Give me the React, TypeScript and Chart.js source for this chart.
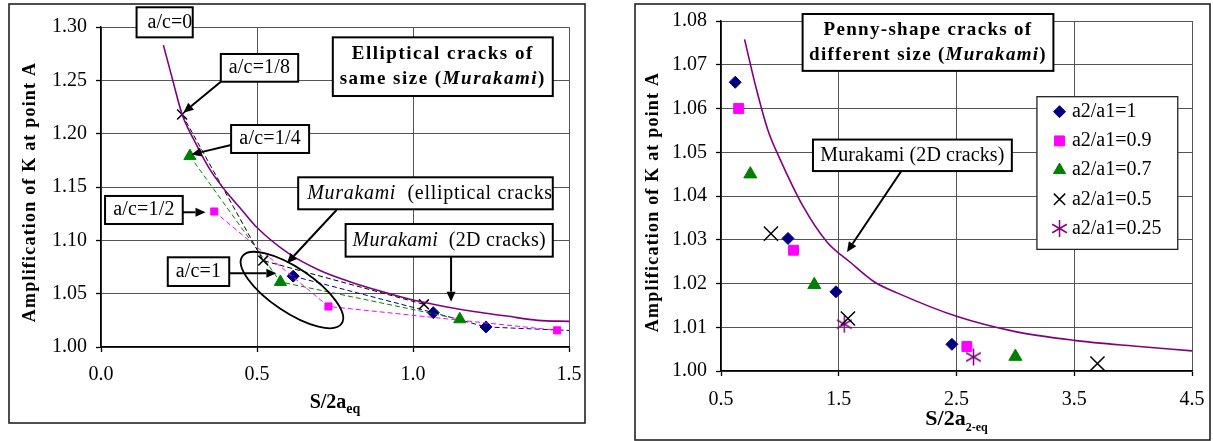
import React, { useEffect, useRef } from 'react';
import { Chart, registerables } from 'chart.js';
import { drawPoint } from 'chart.js/helpers';
Chart.register(...registerables);

const FONT = '"Liberation Serif", "Times New Roman", Times, serif';
const PURPLE = '#800080';
const NAVY = '#000080';
const MAGENTA = '#FF00FF';
const GREEN = '#008000';
const BLACK = '#000000';

// ---------------- Left panel: elliptical cracks of same size ----------------
const leftXTicks = [0.0, 0.5, 1.0, 1.5];
const leftYTicks = [1.0, 1.05, 1.1, 1.15, 1.2, 1.25, 1.3];
const left2DX = [0.2, 0.23, 0.26, 0.3, 0.35, 0.4, 0.45, 0.5, 0.6, 0.7, 0.8, 0.9, 1.0, 1.1, 1.2, 1.3, 1.4, 1.5];
const left2DY = [1.283, 1.25, 1.218, 1.193, 1.166, 1.146, 1.129, 1.112, 1.088, 1.072, 1.061, 1.052, 1.044, 1.038, 1.033, 1.029, 1.025, 1.024];
const ac8X = [0.26, 0.52, 1.035];
const ac8Y = [1.218, 1.081, 1.04];
const ac4X = [0.285, 0.575, 1.15];
const ac4Y = [1.179, 1.061, 1.026];
const ac2X = [0.363, 0.729, 1.462];
const ac2Y = [1.127, 1.038, 1.0156];
const ac1X = [0.616, 1.065, 1.234, 1.75];
const ac1Y = [1.0664, 1.0322, 1.0188, 1.0124];

// ---------------- Right panel: penny-shape cracks of different size ----------------
const rightXTicks = [0.5, 1.5, 2.5, 3.5, 4.5];
const rightYTicks = [1.0, 1.01, 1.02, 1.03, 1.04, 1.05, 1.06, 1.07, 1.08];
const right2DX = [0.7, 0.8, 0.9, 1.0, 1.2, 1.4, 1.6, 1.8, 2.0, 2.5, 3.0, 3.5, 4.0, 4.5];
const right2DY = [1.0758, 1.0645, 1.0549, 1.0485, 1.0375, 1.0295, 1.0248, 1.0204, 1.0178, 1.0125, 1.009, 1.007, 1.0057, 1.0046];
const r10X = [0.621, 1.069, 1.476, 2.461];
const r10Y = [1.066, 1.0303, 1.0181, 1.0061];
const r09X = [0.65, 1.116, 2.588];
const r09Y = [1.06, 1.0276, 1.0056];
const r07X = [0.749, 1.292, 3.0];
const r07Y = [1.045, 1.0197, 1.0033];
const r05X = [0.924, 1.578, 3.697];
const r05Y = [1.0314, 1.012, 1.0017];
const r025X = [1.547, 2.644];
const r025Y = [1.0107, 1.0032];
const rightLabels = ['a2/a1=1', 'a2/a1=0.9', 'a2/a1=0.7', 'a2/a1=0.5', 'a2/a1=0.25'];

type Seg = { t: string; b?: boolean; i?: boolean };
type Note = {
  box: [number, number, number, number];
  lines: Seg[][];
  align: 'center' | 'left';
  pad?: number;
  size: number;
  spacing: number;
  lineH: number;
  arrow?: [number, number, number, number];
};
type Decor = {
  frame: [number, number, number, number];
  yTitle: { text: string; x: number; y: number };
  xTitle: { main: string; sub: string; y: number; size: number; subSize: number; subDy: number };
  notes: Note[];
  ellipse?: { cx: number; cy: number; a: number; b: number; rot: number };
  legend?: { box: [number, number, number, number]; items: number[]; first: number; step: number; markerDx: number; textDx: number; radii: number[] };
};

function segFont(s: Seg, size: number) {
  return `${s.i ? 'italic ' : ''}${s.b ? 'bold ' : ''}${size}px ${FONT}`;
}

function drawSegs(ctx: any, segs: Seg[], x: number, y: number, align: string, size: number, spacing: number) {
  ctx.letterSpacing = `${spacing}px`;
  const widths = segs.map((s) => {
    ctx.font = segFont(s, size);
    return ctx.measureText(s.t).width;
  });
  const total = widths.reduce((a, b) => a + b, 0);
  let cx = align === 'center' ? x - total / 2 : x;
  ctx.textAlign = 'left';
  ctx.textBaseline = 'middle';
  ctx.fillStyle = '#000';
  segs.forEach((s, k) => {
    ctx.font = segFont(s, size);
    ctx.fillText(s.t, cx, y);
    cx += widths[k];
  });
  ctx.letterSpacing = '0px';
}

function drawArrow(ctx: any, x0: number, y0: number, x1: number, y1: number) {
  const a = Math.atan2(y1 - y0, x1 - x0);
  const L = 10;
  const W = 4.5;
  const bx = x1 - L * Math.cos(a);
  const by = y1 - L * Math.sin(a);
  ctx.strokeStyle = '#000';
  ctx.fillStyle = '#000';
  ctx.lineWidth = 2;
  ctx.setLineDash([]);
  ctx.beginPath();
  ctx.moveTo(x0, y0);
  ctx.lineTo(bx, by);
  ctx.stroke();
  ctx.beginPath();
  ctx.moveTo(x1, y1);
  ctx.lineTo(bx - W * Math.sin(a), by + W * Math.cos(a));
  ctx.lineTo(bx + W * Math.sin(a), by - W * Math.cos(a));
  ctx.closePath();
  ctx.fill();
}

function decor(d: Decor) {
  return {
    id: 'decor',
    afterDatasetsDraw(chart: any) {
      const ctx = chart.ctx;
      const xs = chart.scales.x;
      const ys = chart.scales.y;
      const px = (v: number) => xs.getPixelForValue(v);
      const py = (v: number) => ys.getPixelForValue(v);
      ctx.save();
      if (d.ellipse) {
        const e = d.ellipse;
        ctx.beginPath();
        ctx.ellipse(px(e.cx), py(e.cy), e.a, e.b, e.rot, 0, Math.PI * 2);
        ctx.strokeStyle = '#000';
        ctx.lineWidth = 1.8;
        ctx.setLineDash([]);
        ctx.stroke();
      }
      d.notes.forEach((n) => {
        if (n.arrow) drawArrow(ctx, px(n.arrow[0]), py(n.arrow[1]), px(n.arrow[2]), py(n.arrow[3]));
      });
      d.notes.forEach((n) => {
        const x0 = px(n.box[0]);
        const y0 = py(n.box[1]);
        const x1 = px(n.box[2]);
        const y1 = py(n.box[3]);
        ctx.fillStyle = '#fff';
        ctx.fillRect(x0, y0, x1 - x0, y1 - y0);
        ctx.save();
        ctx.beginPath();
        ctx.rect(x0 + 1, y0 + 1, x1 - x0 - 2, y1 - y0 - 2);
        ctx.clip();
        const cy = (y0 + y1) / 2;
        const tot = n.lines.length * n.lineH;
        n.lines.forEach((ln, k) => {
          const ly = cy - tot / 2 + n.lineH / 2 + k * n.lineH;
          const lx = n.align === 'center' ? (x0 + x1) / 2 : x0 + (n.pad || 8);
          drawSegs(ctx, ln, lx, ly, n.align, n.size, n.spacing);
        });
        ctx.restore();
        ctx.strokeStyle = '#000';
        ctx.lineWidth = 2;
        ctx.setLineDash([]);
        ctx.strokeRect(x0, y0, x1 - x0, y1 - y0);
      });
      if (d.legend) {
        const L = d.legend;
        const X0 = px(L.box[0]);
        const Y0 = py(L.box[1]);
        const X1 = px(L.box[2]);
        const Y1 = py(L.box[3]);
        ctx.fillStyle = '#fff';
        ctx.fillRect(X0, Y0, X1 - X0, Y1 - Y0);
        ctx.strokeStyle = '#222';
        ctx.lineWidth = 1.3;
        ctx.strokeRect(X0, Y0, X1 - X0, Y1 - Y0);
        L.items.forEach((di, k) => {
          const ds = chart.data.datasets[di];
          const y = Y0 + L.first + k * L.step;
          ctx.save();
          ctx.fillStyle = ds.pointBackgroundColor;
          ctx.strokeStyle = ds.pointBorderColor;
          ctx.lineWidth = ds.pointBorderWidth;
          ctx.setLineDash([]);
          drawPoint(ctx, { pointStyle: ds.pointStyle, radius: L.radii[k], rotation: 0, borderWidth: ds.pointBorderWidth } as any, X0 + L.markerDx, y);
          ctx.restore();
          drawSegs(ctx, [{ t: ds.label }], X0 + L.textDx, y, 'left', 20, 0);
        });
      }
      ctx.restore();
    },
    afterDraw(chart: any) {
      const ctx = chart.ctx;
      const area = chart.chartArea;
      ctx.save();
      const [l, t, r, b] = d.frame;
      ctx.strokeStyle = '#222';
      ctx.lineWidth = 1.6;
      ctx.setLineDash([]);
      ctx.strokeRect(l, t, r - l, b - t);
      // y title
      ctx.save();
      ctx.translate(d.yTitle.x, d.yTitle.y);
      ctx.rotate(-Math.PI / 2);
      ctx.fillStyle = '#000';
      ctx.font = `bold 18px ${FONT}`;
      ctx.letterSpacing = '1.2px';
      ctx.textAlign = 'center';
      ctx.textBaseline = 'middle';
      ctx.fillText(d.yTitle.text, 0, 0);
      ctx.letterSpacing = '0px';
      ctx.restore();
      // x title with subscript
      const xt = d.xTitle;
      ctx.font = `bold ${xt.size}px ${FONT}`;
      const w1 = ctx.measureText(xt.main).width;
      ctx.font = `bold ${xt.subSize}px ${FONT}`;
      const w2 = ctx.measureText(xt.sub).width;
      const x = (area.left + area.right) / 2 - (w1 + w2) / 2;
      ctx.fillStyle = '#000';
      ctx.textAlign = 'left';
      ctx.textBaseline = 'alphabetic';
      ctx.font = `bold ${xt.size}px ${FONT}`;
      ctx.fillText(xt.main, x, xt.y);
      ctx.font = `bold ${xt.subSize}px ${FONT}`;
      ctx.fillText(xt.sub, x + w1, xt.y + xt.subDy);
      ctx.restore();
    },
  };
}

function axis(min: number, max: number, ticks: number[], digits: number, isX: boolean, size: number, pad: number) {
  return {
    type: 'linear',
    min,
    max,
    afterBuildTicks: (s: any) => {
      s.ticks = ticks.map((v) => ({ value: v }));
    },
    afterFit: (s: any) => {
      if (isX) s.height = size;
      else s.width = size;
      s.paddingLeft = 0;
      s.paddingRight = 0;
      s.paddingTop = 0;
      s.paddingBottom = 0;
    },
    ticks: {
      callback: (v: any) => Number(v).toFixed(digits),
      font: { family: FONT, size: 20 },
      color: '#000',
      padding: pad,
      autoSkip: false,
      maxRotation: 0,
      minRotation: 0,
    },
    grid: { color: '#555', lineWidth: 1, drawTicks: true, tickLength: 5, tickColor: '#000', tickWidth: 1.3 },
    border: { display: true, color: '#000', width: 1.5 },
  };
}

const pts = (xs: number[], ys: number[]) => xs.map((x, i) => ({ x, y: ys[i] }));

function curve(xs: number[], ys: number[], w: number) {
  return {
    label: 'Murakami (2D cracks)',
    data: pts(xs, ys),
    showLine: true,
    borderColor: PURPLE,
    backgroundColor: PURPLE,
    borderWidth: w,
    pointRadius: 0,
    pointHoverRadius: 0,
    cubicInterpolationMode: 'monotone',
    fill: false,
  };
}

function series(label: string, xs: number[], ys: number[], color: string, style: any, r: number, line: boolean, bw: number) {
  return {
    label,
    data: pts(xs, ys),
    showLine: line,
    borderColor: color,
    backgroundColor: color,
    borderWidth: 1,
    borderDash: [5, 3],
    pointStyle: style,
    pointRadius: r,
    pointHoverRadius: r,
    pointBackgroundColor: color,
    pointBorderColor: color,
    pointBorderWidth: bw,
    fill: false,
  };
}

function makeAsterisk(color: string, size: number) {
  const c = document.createElement('canvas');
  c.width = size;
  c.height = size;
  const g = c.getContext('2d')!;
  g.strokeStyle = color;
  g.lineWidth = 1.5;
  const m = size / 2;
  const r = size / 2 - 1;
  [90, 30, 150].forEach((deg) => {
    const a = (deg * Math.PI) / 180;
    g.beginPath();
    g.moveTo(m - r * Math.cos(a), m - r * Math.sin(a));
    g.lineTo(m + r * Math.cos(a), m + r * Math.sin(a));
    g.stroke();
  });
  return c;
}

const leftDecor: Decor = {
  frame: [9, 4, 585, 423],
  yTitle: { text: 'Amplification of K at point A', x: 30, y: 192 },
  xTitle: { main: 'S/2a', sub: 'eq', y: 408, size: 20, subSize: 14, subDy: 5 },
  ellipse: { cx: 0.612, cy: 1.0534, a: 60, b: 22, rot: (34 * Math.PI) / 180 },
  notes: [
    { box: [0.114, 1.3185, 0.294, 1.2903], lines: [[{ t: 'a/c=0' }]], align: 'left', pad: 11, size: 20, spacing: 0, lineH: 24 },
    { box: [0.384, 1.2747, 0.632, 1.2487], lines: [[{ t: 'a/c=1/8' }]], align: 'center', size: 20, spacing: 0.2, lineH: 24, arrow: [0.384, 1.2487, 0.264, 1.2197] },
    { box: [0.417, 1.2081, 0.667, 1.1819], lines: [[{ t: 'a/c=1/4' }]], align: 'center', size: 20, spacing: 0.2, lineH: 24, arrow: [0.417, 1.1894, 0.29, 1.1805] },
    { box: [0.013, 1.1416, 0.262, 1.1153], lines: [[{ t: 'a/c=1/2' }]], align: 'center', size: 20, spacing: 0.2, lineH: 24, arrow: [0.262, 1.1263, 0.335, 1.1263] },
    { box: [0.214, 1.0841, 0.411, 1.0572], lines: [[{ t: 'a/c=1' }]], align: 'center', size: 20, spacing: 0.2, lineH: 24, arrow: [0.411, 1.0691, 0.562, 1.0691] },
    {
      box: [0.743, 1.2903, 1.448, 1.2353],
      lines: [
        [{ t: 'Elliptical cracks of', b: true }],
        [{ t: 'same size (', b: true }, { t: 'Murakami', b: true, i: true }, { t: ')', b: true }],
      ],
      align: 'center', size: 19, spacing: 1.5, lineH: 25,
    },
    { box: [0.632, 1.1591, 1.448, 1.1291], lines: [[{ t: 'Murakami', i: true }, { t: '  (elliptical cracks)' }]], align: 'left', pad: 9, size: 20, spacing: 0.7, lineH: 24, arrow: [0.755, 1.1284, 0.596, 1.0785] },
    { box: [0.784, 1.1153, 1.448, 1.0847], lines: [[{ t: 'Murakami', i: true }, { t: '  (2D cracks)' }]], align: 'center', size: 20, spacing: 0.3, lineH: 24, arrow: [1.122, 1.0847, 1.122, 1.0425] },
  ],
};

const rightDecor: Decor = {
  frame: [25, 4, 600, 440],
  yTitle: { text: 'Amplification of K at point A', x: 43, y: 202 },
  xTitle: { main: 'S/2a', sub: '2-eq', y: 425, size: 22, subSize: 12, subDy: 6 },
  notes: [
    {
      box: [1.193, 1.0816, 3.323, 1.0686],
      lines: [
        [{ t: 'Penny-shape cracks of', b: true }],
        [{ t: 'different size (', b: true }, { t: 'Murakami', b: true, i: true }, { t: ')', b: true }],
      ],
      align: 'center', size: 19, spacing: 1.3, lineH: 25,
    },
    { box: [1.281, 1.0529, 2.97, 1.0457], lines: [[{ t: 'Murakami (2D cracks)' }]], align: 'center', size: 20, spacing: 0.1, lineH: 24, arrow: [2.036, 1.0459, 1.57, 1.0272] },
  ],
  legend: { box: [3.183, 1.0627, 4.379, 1.0278], items: [1, 2, 3, 4, 5], first: 15, step: 29.2, markerDx: 22.6, textDx: 35, radii: [6, 7, 7, 8, 0] },
};

function buildLeft(): any {
  return {
    type: 'scatter',
    data: {
      datasets: [
        curve(left2DX, left2DY, 1.6),
        series('a/c=1/8', ac8X, ac8Y, BLACK, 'crossRot', 7, true, 1.5),
        series('a/c=1/4', ac4X, ac4Y, GREEN, 'triangle', 7, true, 1),
        series('a/c=1/2', ac2X, ac2Y, MAGENTA, 'rect', 5, true, 1),
        series('a/c=1', ac1X, ac1Y, NAVY, 'rectRot', 6, true, 1),
      ],
    },
    options: {
      animation: false,
      responsive: false,
      maintainAspectRatio: false,
      layout: { padding: { left: 0, top: 27, right: 41, bottom: 0 } },
      plugins: { legend: { display: false }, tooltip: { enabled: false } },
      scales: {
        x: axis(0, 1.5, leftXTicks, 1, true, 94, 11),
        y: axis(1.0, 1.3, leftYTicks, 2, false, 101, 9),
      },
    },
    plugins: [decor(leftDecor)],
  };
}

function buildRight(star: HTMLCanvasElement): any {
  return {
    type: 'scatter',
    data: {
      datasets: [
        curve(right2DX, right2DY, 1.6),
        series(rightLabels[0], r10X, r10Y, NAVY, 'rectRot', 6, false, 1),
        series(rightLabels[1], r09X, r09Y, MAGENTA, 'rect', 7, false, 1),
        series(rightLabels[2], r07X, r07Y, GREEN, 'triangle', 7.5, false, 1),
        series(rightLabels[3], r05X, r05Y, BLACK, 'crossRot', 10, false, 1.5),
        series(rightLabels[4], r025X, r025Y, PURPLE, star, 9, false, 1),
      ],
    },
    options: {
      animation: false,
      responsive: false,
      maintainAspectRatio: false,
      layout: { padding: { left: 0, top: 21, right: 21, bottom: 0 } },
      plugins: { legend: { display: false }, tooltip: { enabled: false } },
      scales: {
        x: axis(0.5, 4.5, rightXTicks, 1, true, 70, 12),
        y: axis(1.0, 1.08, rightYTicks, 2, false, 111, 9),
      },
    },
    plugins: [decor(rightDecor)],
  };
}

export default function App() {
  const leftRef = useRef<HTMLCanvasElement>(null);
  const rightRef = useRef<HTMLCanvasElement>(null);
  useEffect(() => {
    const star = makeAsterisk(PURPLE, 19);
    const left = new Chart(leftRef.current!, buildLeft());
    const right = new Chart(rightRef.current!, buildRight(star));
    return () => {
      left.destroy();
      right.destroy();
    };
  }, []);
  return (
    <div style={{ position: 'fixed', left: 0, top: 0, width: 1213, height: 441, background: '#fff' }}>
      <canvas ref={leftRef} width={610} height={441} style={{ position: 'absolute', left: 0, top: 0, width: 610, height: 441 }} />
      <canvas ref={rightRef} width={603} height={441} style={{ position: 'absolute', left: 610, top: 0, width: 603, height: 441 }} />
    </div>
  );
}
